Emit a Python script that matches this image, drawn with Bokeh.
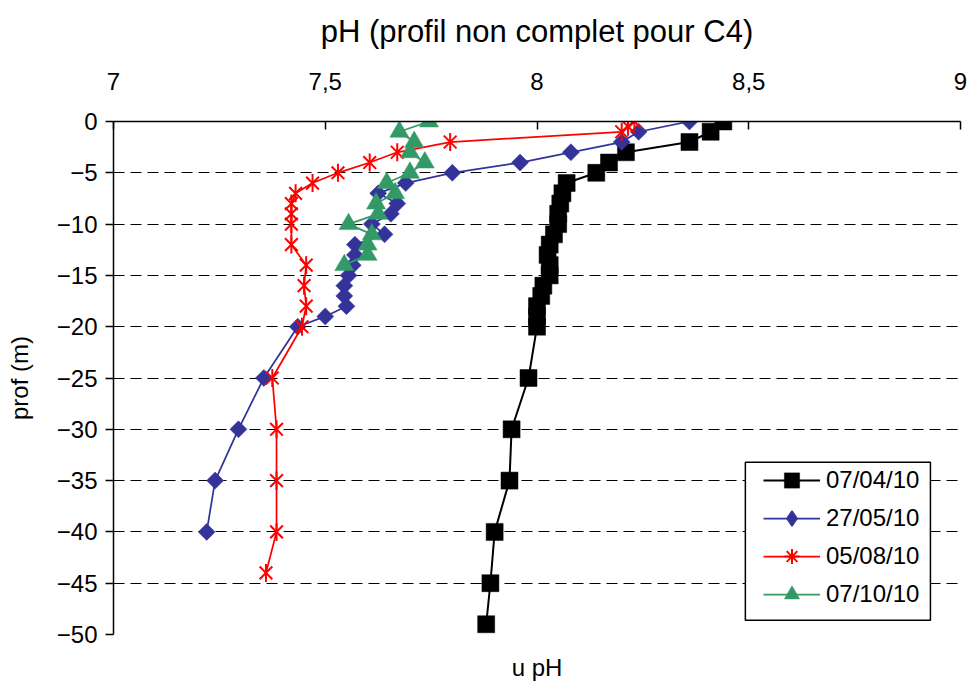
from bokeh.plotting import figure
from bokeh.models import (Range1d, FixedTicker, Legend, LegendItem,
                          BoxAnnotation, LinearAxis)
from bokeh.embed import file_html
from bokeh.resources import INLINE

FONT = "Liberation Sans"
NAN = float("nan")

# Depth (m) and pH profiles for each sampling date
depth_0704 = [0, -1, -2, -3, -4, -5, -6, -7, -8, -9, -10, -11, -12, -13, -14,
              -15, -16, -17, -18, -19, -20, -25, -30, -35, -40, -45, -49]
ph_0704 = [8.44, 8.41, 8.36, 8.21, 8.17, 8.14, 8.07, 8.06, 8.055, 8.05, 8.05,
           8.04, 8.03, 8.025, 8.03, 8.03, 8.015, 8.01, 8.0, 8.0, 8.0, 7.98,
           7.94, 7.935, 7.90, 7.89, 7.88]

depth_2705 = [0, -1, -2, -3, -4, -5, -6, -7, -8, -9, -10, -11, -12, -13, -14,
              -15, -16, -17, -18, -19, -20, -25, -30, -35, -40]
ph_2705 = [8.36, 8.24, 8.20, 8.08, 7.96, 7.80, 7.69, 7.625, 7.67, 7.655, 7.61,
           7.64, 7.57, 7.57, 7.565, 7.555, 7.545, 7.545, 7.55, 7.50, 7.435,
           7.355, 7.295, 7.24, 7.22]

depth_0508 = [0, -0.5, -1, -2, -3, -4, -5, -6, -7, -8, -9, -10, -12, -14, -16,
              -18, -20, -25, -30, -35, -40, -44]
ph_0508 = [8.23, 8.215, 8.20, 7.795, 7.67, 7.605, 7.53, 7.47, 7.43, 7.42, 7.42,
           7.42, 7.42, 7.455, 7.45, 7.455, 7.445, 7.375, 7.385, 7.385, 7.385,
           7.36]

depth_0710 = [0, -1, -2, -3, -4, -5, -6, -7, -8, -9, -10, -11, -12, -13, -14]
ph_0710 = [7.745, 7.675, 7.71, 7.70, 7.735, 7.70, 7.645, 7.665, 7.62, 7.625,
           7.555, 7.61, 7.60, 7.60, 7.545]

series_labels = ["07/04/10", "27/05/10", "05/08/10", "07/10/10"]

x_ticks = [7, 7.5, 8, 8.5, 9]
x_tick_labels = ["7", "7,5", "8", "8,5", "9"]
y_ticks = [-50, -45, -40, -35, -30, -25, -20, -15, -10, -5, 0]

p = figure(width=967, height=684, output_backend="svg", toolbar_location=None,
           x_range=Range1d(7, 9), y_range=Range1d(-50, 0),
           x_axis_location="above",
           min_border_left=113, min_border_right=7,
           min_border_top=121, min_border_bottom=50)
p.outline_line_color = None
p.background_fill_color = "white"
p.border_fill_color = "white"

# Top x axis; the chart title sits above its tick labels
xa = p.xaxis[0]
xa.ticker = FixedTicker(ticks=x_ticks)
xa.major_label_overrides = {float(t): s for t, s in zip(x_ticks, x_tick_labels)}
xa.major_label_text_font = FONT
xa.major_label_text_font_size = "24px"
xa.major_label_text_color = "black"
xa.major_label_standoff = 32
xa.major_tick_in = 8
xa.major_tick_out = 0
xa.minor_tick_line_color = None
xa.axis_line_color = "black"
xa.axis_line_width = 1.5
xa.major_tick_line_color = "black"
xa.major_tick_line_width = 1.5
xa.axis_label = "pH (profil non complet pour C4)"
xa.axis_label_text_font = FONT
xa.axis_label_text_font_size = "31px"
xa.axis_label_text_font_style = "normal"
xa.axis_label_text_color = "black"
xa.axis_label_standoff = 21

# Left y axis
ya = p.yaxis[0]
ya.ticker = FixedTicker(ticks=y_ticks)
ya.major_label_text_font = FONT
ya.major_label_text_font_size = "24px"
ya.major_label_text_color = "black"
ya.major_label_standoff = 8
ya.major_tick_in = 0
ya.major_tick_out = 8
ya.minor_tick_line_color = None
ya.axis_line_color = "black"
ya.axis_line_width = 1.5
ya.major_tick_line_color = "black"
ya.major_tick_line_width = 1.5
ya.axis_label = "prof (m)"
ya.axis_label_text_font = FONT
ya.axis_label_text_font_size = "24px"
ya.axis_label_text_font_style = "normal"
ya.axis_label_text_color = "black"
ya.axis_label_standoff = 21

# Caption under the frame: a bare axis carrying only its label
cap = LinearAxis(ticker=FixedTicker(ticks=[]), axis_line_color=None,
                 major_tick_in=0, major_tick_out=0, minor_tick_in=0,
                 minor_tick_out=0, major_label_standoff=0,
                 axis_label="u pH", axis_label_text_font=FONT,
                 axis_label_text_font_size="24px",
                 axis_label_text_font_style="normal",
                 axis_label_text_color="black", axis_label_standoff=19)
p.add_layout(cap, "below")

# Dashed horizontal grid every 5 m
p.xgrid.visible = False
p.ygrid.ticker = FixedTicker(ticks=y_ticks)
p.ygrid.grid_line_color = "black"
p.ygrid.grid_line_width = 1
p.ygrid.grid_line_dash = "11 6"

# Series
items = []

r1l = p.line(ph_0704, depth_0704, line_color="black", line_width=2)
r1m = p.scatter(ph_0704, depth_0704, marker="square", size=17,
                fill_color="black", line_color="black", line_width=0.5)
items.append(LegendItem(label=series_labels[0], renderers=[r1l, r1m]))

blue = "#333399"
r2l = p.line(ph_2705, depth_2705, line_color=blue, line_width=1.75)
r2m = p.scatter(ph_2705, depth_2705, marker="square", angle=0.7853981634,
                size=12, fill_color=blue, line_color=blue, line_width=0.5)
# legend sample symbol (legend markers are drawn unrotated)
r2k = p.scatter([NAN], [NAN], marker="diamond", fill_color=blue,
                line_color=blue, line_width=1.5)
items.append(LegendItem(label=series_labels[1], renderers=[r2l, r2k]))

red = "#FF0000"
r3l = p.line(ph_0508, depth_0508, line_color=red, line_width=1.75)
r3x = p.scatter(ph_0508, depth_0508, marker="x", size=18,
                line_color=red, line_width=2)
r3v = p.scatter(ph_0508, depth_0508, marker="dash", angle=1.5707963268,
                size=18, line_color=red, line_width=2)
r3k = p.scatter([NAN], [NAN], marker="asterisk", line_color=red,
                line_width=2)
items.append(LegendItem(label=series_labels[2], renderers=[r3l, r3k]))

green = "#339966"
r4l = p.line(ph_0710, depth_0710, line_color=green, line_width=1.75)
r4m = p.scatter(ph_0710, depth_0710, marker="triangle", size=19,
                fill_color=green, line_color=green, line_width=0.5)
items.append(LegendItem(label=series_labels[3], renderers=[r4l, r4m]))

# Legend frame
box = BoxAnnotation(left=8.492, right=8.929, bottom=-48.6, top=-33.2,
                    fill_color="white", fill_alpha=1.0,
                    line_color="black", line_width=1.5, line_alpha=1.0)
p.add_layout(box)

legend = Legend(items=items, location=(650, 21), orientation="vertical",
                padding=0, margin=0, spacing=0,
                glyph_width=57, glyph_height=38, label_standoff=6,
                label_text_font=FONT, label_text_font_size="24px",
                label_text_color="black", label_text_baseline="middle",
                border_line_color=None, background_fill_alpha=0.0)
p.add_layout(legend, "center")

open("out.html", "w").write(file_html(p, INLINE))
